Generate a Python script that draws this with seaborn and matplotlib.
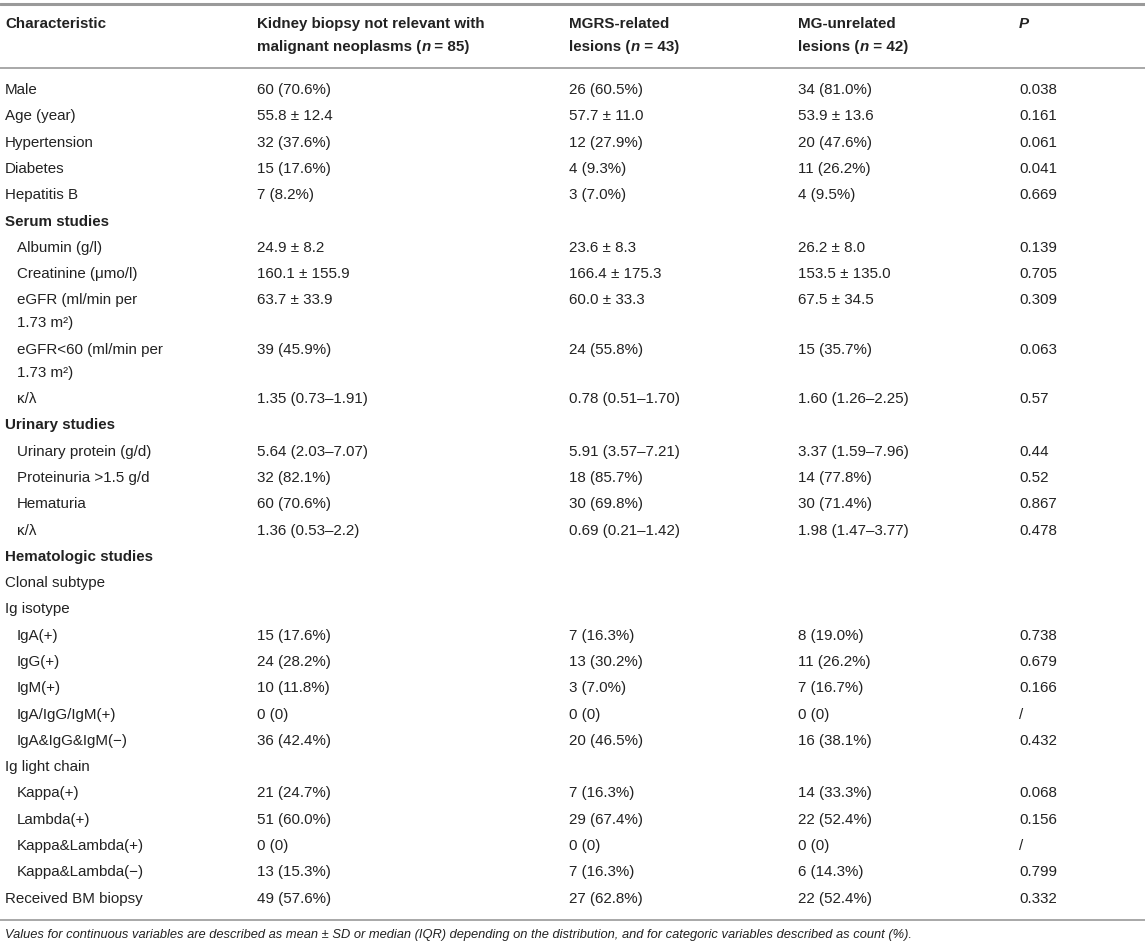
import numpy as np
import pandas as pd
import seaborn as sns
import matplotlib.pyplot as plt

# table content
characteristic = ["Male", "Age (year)", "Hypertension", "Diabetes", "Hepatitis B",
                  "Serum studies", "Albumin (g/l)", "Creatinine (\u03bcmo/l)",
                  "eGFR (ml/min per\n1.73 m\u00b2)", "eGFR<60 (ml/min per\n1.73 m\u00b2)", "\u03ba/\u03bb",
                  "Urinary studies", "Urinary protein (g/d)", "Proteinuria >1.5 g/d", "Hematuria", "\u03ba/\u03bb",
                  "Hematologic studies", "Clonal subtype", "Ig isotype",
                  "IgA(+)", "IgG(+)", "IgM(+)", "IgA/IgG/IgM(+)", "IgA&IgG&IgM(\u2212)",
                  "Ig light chain", "Kappa(+)", "Lambda(+)", "Kappa&Lambda(+)", "Kappa&Lambda(\u2212)",
                  "Received BM biopsy"]
not_relevant = ["60 (70.6%)", "55.8 \u00b1 12.4", "32 (37.6%)", "15 (17.6%)", "7 (8.2%)",
                "", "24.9 \u00b1 8.2", "160.1 \u00b1 155.9", "63.7 \u00b1 33.9", "39 (45.9%)", "1.35 (0.73\u20131.91)",
                "", "5.64 (2.03\u20137.07)", "32 (82.1%)", "60 (70.6%)", "1.36 (0.53\u20132.2)",
                "", "", "",
                "15 (17.6%)", "24 (28.2%)", "10 (11.8%)", "0 (0)", "36 (42.4%)",
                "", "21 (24.7%)", "51 (60.0%)", "0 (0)", "13 (15.3%)",
                "49 (57.6%)"]
mgrs_related = ["26 (60.5%)", "57.7 \u00b1 11.0", "12 (27.9%)", "4 (9.3%)", "3 (7.0%)",
                "", "23.6 \u00b1 8.3", "166.4 \u00b1 175.3", "60.0 \u00b1 33.3", "24 (55.8%)", "0.78 (0.51\u20131.70)",
                "", "5.91 (3.57\u20137.21)", "18 (85.7%)", "30 (69.8%)", "0.69 (0.21\u20131.42)",
                "", "", "",
                "7 (16.3%)", "13 (30.2%)", "3 (7.0%)", "0 (0)", "20 (46.5%)",
                "", "7 (16.3%)", "29 (67.4%)", "0 (0)", "7 (16.3%)",
                "27 (62.8%)"]
mg_unrelated = ["34 (81.0%)", "53.9 \u00b1 13.6", "20 (47.6%)", "11 (26.2%)", "4 (9.5%)",
                "", "26.2 \u00b1 8.0", "153.5 \u00b1 135.0", "67.5 \u00b1 34.5", "15 (35.7%)", "1.60 (1.26\u20132.25)",
                "", "3.37 (1.59\u20137.96)", "14 (77.8%)", "30 (71.4%)", "1.98 (1.47\u20133.77)",
                "", "", "",
                "8 (19.0%)", "11 (26.2%)", "7 (16.7%)", "0 (0)", "16 (38.1%)",
                "", "14 (33.3%)", "22 (52.4%)", "0 (0)", "6 (14.3%)",
                "22 (52.4%)"]
p_values = ["0.038", "0.161", "0.061", "0.041", "0.669",
            "", "0.139", "0.705", "0.309", "0.063", "0.57",
            "", "0.44", "0.52", "0.867", "0.478",
            "", "", "",
            "0.738", "0.679", "0.166", "/", "0.432",
            "", "0.068", "0.156", "/", "0.799",
            "0.332"]
section_rows = ["Serum studies", "Urinary studies", "Hematologic studies"]
footnote = ("Values for continuous variables are described as mean \u00b1 SD or median (IQR) depending on "
            "the distribution, and for categoric variables described as count (%).")

df = pd.DataFrame({"label": characteristic, "c1": not_relevant, "c2": mgrs_related,
                   "c3": mg_unrelated, "p": p_values})
# indented rows: members of serum/urinary blocks and isotype/light-chain items
indent = np.zeros(len(df), dtype=bool)
indent[6:11] = True
indent[12:16] = True
indent[19:24] = True
indent[25:29] = True

sns.set_theme(style="white")
plt.rcParams['font.family'] = ['Liberation Sans', 'DejaVu Sans']
TXT = "#222222"
FS = 10.9

fig = plt.figure(figsize=(11.45, 9.47), dpi=100)
ax = fig.add_axes([0, 0, 1, 1])
ax.set_xlim(0, 1145)
ax.set_ylim(947, 0)
ax.axis("off")
fig.canvas.draw()
renderer = fig.canvas.get_renderer()


def runs(x, y, parts):
    # draw text pieces one after another on one line
    for s, style, weight in parts:
        t = ax.text(x, y, s, fontsize=FS, color=TXT, fontstyle=style,
                    fontweight=weight, va="center", ha="left")
        x += t.get_window_extent(renderer).width


col_x = [5, 257, 569, 798, 1019]
line_h = 23
row_h = 26.3

# header
runs(col_x[0], 24, [("Characteristic", "normal", "bold")])
runs(col_x[1], 24, [("Kidney biopsy not relevant with", "normal", "bold")])
runs(col_x[1], 47, [("malignant neoplasms (", "normal", "bold"), ("n", "italic", "bold"),
                    (" = 85)", "normal", "bold")])
runs(col_x[2], 24, [("MGRS-related", "normal", "bold")])
runs(col_x[2], 47, [("lesions (", "normal", "bold"), ("n", "italic", "bold"), (" = 43)", "normal", "bold")])
runs(col_x[3], 24, [("MG-unrelated", "normal", "bold")])
runs(col_x[3], 47, [("lesions (", "normal", "bold"), ("n", "italic", "bold"), (" = 42)", "normal", "bold")])
runs(col_x[4], 24, [("P", "italic", "bold")])

ax.axhline(3.5, color="#9a9a9a", lw=2.2)
ax.axhline(68, color="#a8a8a8", lw=1.4)

y = 90
for i, row in df.iterrows():
    lines = row["label"].split("\n")
    bold = row["label"] in section_rows
    x0 = col_x[0] + (12 if indent[i] else 0)
    for k, ln in enumerate(lines):
        ax.text(x0, y + k * line_h, ln, fontsize=FS, color=TXT, va="center",
                fontweight="bold" if bold else "normal")
    for cx, key in zip(col_x[1:], ["c1", "c2", "c3", "p"]):
        ax.text(cx, y, row[key], fontsize=FS, color=TXT, va="center")
    y += row_h + (len(lines) - 1) * line_h

ax.axhline(y - row_h + 21, color="#a8a8a8", lw=1.4)
ax.text(col_x[0], y - row_h + 36, footnote, fontsize=9.3, color=TXT,
        fontstyle="italic", va="center")

fig.savefig("out.png", dpi=100, facecolor="white")
